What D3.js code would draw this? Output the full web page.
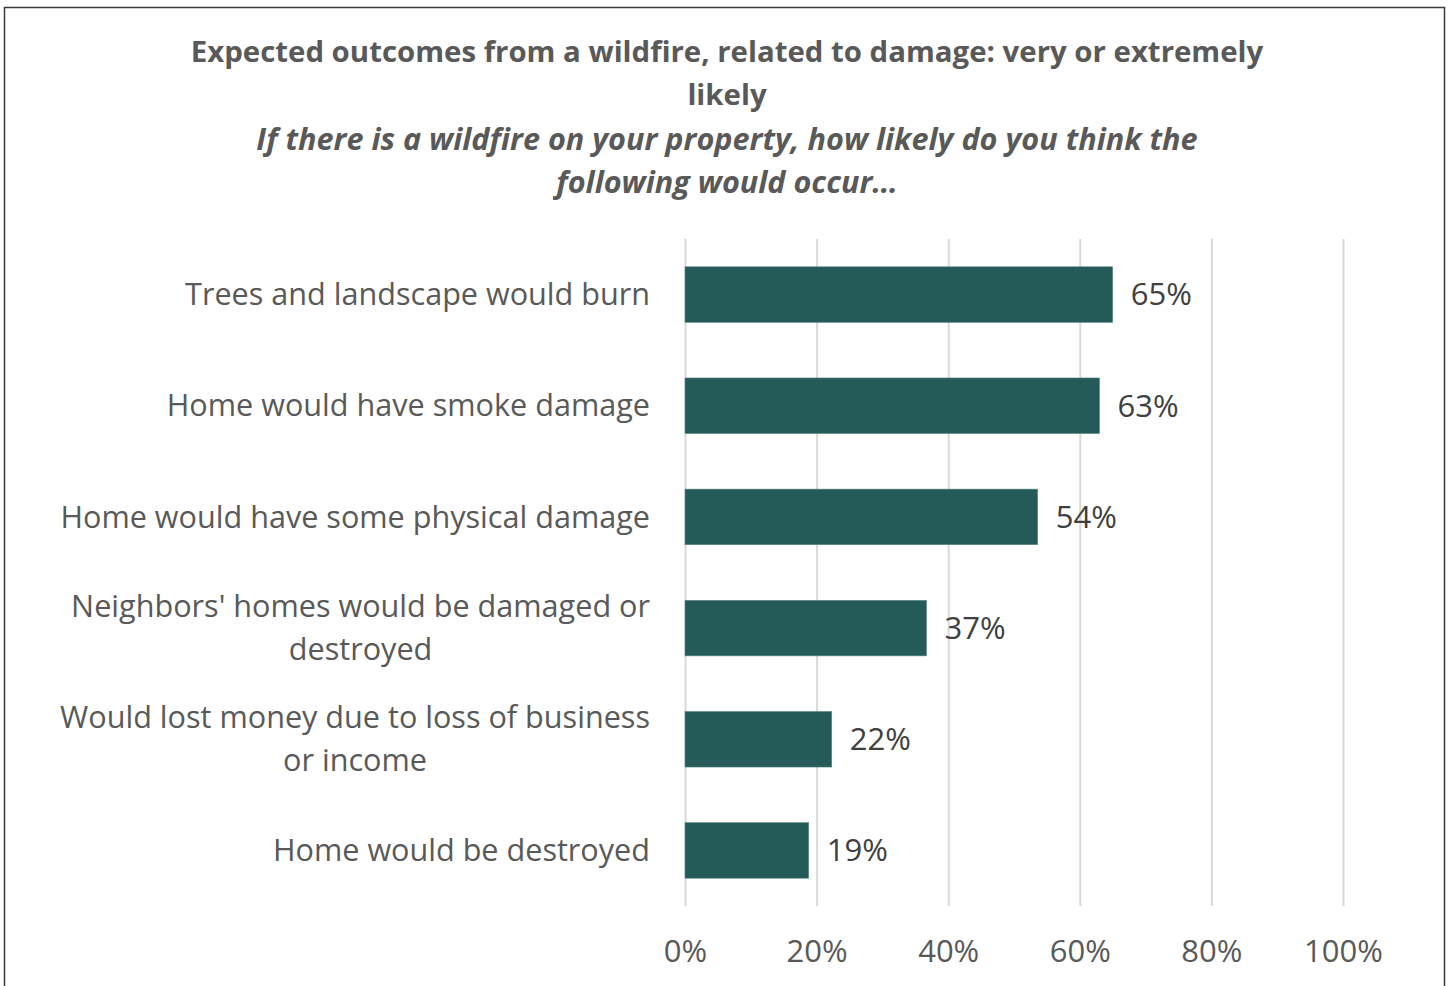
<!DOCTYPE html>
<html><head><meta charset="utf-8">
<script src="https://cdn.jsdelivr.net/npm/d3@7"></script>
<style>body{margin:0;background:#fff;} svg{display:block;}</style>
</head><body>
<svg id="chart" width="1450" height="986"></svg>
<script>
const titleLines = ["Expected outcomes from a wildfire, related to damage: very or extremely", "likely"];
const subtitleLines = ["If there is a wildfire on your property, how likely do you think the", "following would occur…"];
const categories = [
  ["Trees and landscape would burn"],
  ["Home would have smoke damage"],
  ["Home would have some physical damage"],
  ["Neighbors' homes would be damaged or", "destroyed"],
  ["Would lost money due to loss of business", "or income"],
  ["Home would be destroyed"]
];
const values = [0.650, 0.630, 0.536, 0.367, 0.223, 0.188];
const tickValues = [0, 0.2, 0.4, 0.6, 0.8, 1.0];

const svg = d3.select("#chart");
const font = "'Open Sans', sans-serif";

svg.append("rect").attr("x", 4.5).attr("y", 7.5).attr("width", 1440).attr("height", 1000)
  .attr("fill", "none").attr("stroke", "#3a3a3a").attr("stroke-width", 1.5);

const titleG = svg.append("g").attr("font-family", font).attr("fill", "#595959")
  .attr("font-weight", "bold").attr("text-anchor", "middle");
titleLines.forEach((t, i) => titleG.append("text").attr("x", 727).attr("y", 52 + i * 43).attr("dy", "0.35em").attr("font-size", 29.4).text(t));
subtitleLines.forEach((t, i) => titleG.append("text").attr("x", 727).attr("y", 139 + i * 43).attr("dy", "0.35em").attr("font-size", 30.6).attr("font-style", "italic").text(t));

const x = d3.scaleLinear().domain([0, 1]).range([685, 1343]);
const y = d3.scaleBand().domain(d3.range(categories.length)).range([239, 906]).paddingInner(0.5).paddingOuter(0.25);

// gridlines via axis
const grid = svg.append("g").attr("transform", "translate(0,906)")
  .call(d3.axisBottom(x).tickValues(tickValues).tickSize(-(906 - 239)).tickFormat(""));
grid.select(".domain").remove();
grid.selectAll(".tick line").attr("stroke", "#d9d9d9").attr("stroke-width", 2);

// tick labels
const axis = svg.append("g").attr("transform", "translate(0,906)")
  .call(d3.axisBottom(x).tickValues(tickValues).tickSize(0).tickPadding(30).tickFormat(d3.format(".0%")));
axis.select(".domain").remove();
axis.selectAll("text").attr("font-family", font).attr("font-size", 31).attr("fill", "#595959")
  .attr("dy", "0.35em").attr("y", 45);

// bars
svg.append("g").selectAll("rect").data(values).join("rect")
  .attr("x", x(0)).attr("y", (d, i) => y(i))
  .attr("width", d => x(d) - x(0)).attr("height", y.bandwidth())
  .attr("fill", "#245a58").attr("stroke", "#5f8a88").attr("stroke-width", 0.6);

// value labels
svg.append("g").selectAll("text").data(values).join("text")
  .attr("x", d => x(d) + 18).attr("y", (d, i) => y(i) + y.bandwidth() / 2).attr("dy", "0.35em")
  .attr("font-family", font).attr("font-size", 31).attr("fill", "#404040")
  .text(d => d3.format(".0%")(d));

// category labels
const labG = svg.append("g").attr("font-family", font).attr("font-size", 30.6).attr("fill", "#595959");
categories.forEach((lines, i) => {
  const cy = y(i) + y.bandwidth() / 2;
  const n = lines.length;
  const texts = lines.map((l, j) => labG.append("text").attr("y", cy + (j - (n - 1) / 2) * 43).attr("dy", "0.35em").text(l));
  const widths = texts.map(t => t.node().getComputedTextLength());
  const maxW = Math.max(...widths);
  const center = 650 - maxW / 2;
  texts.forEach(t => t.attr("x", center).attr("text-anchor", "middle"));
});
</script>
</body></html>
